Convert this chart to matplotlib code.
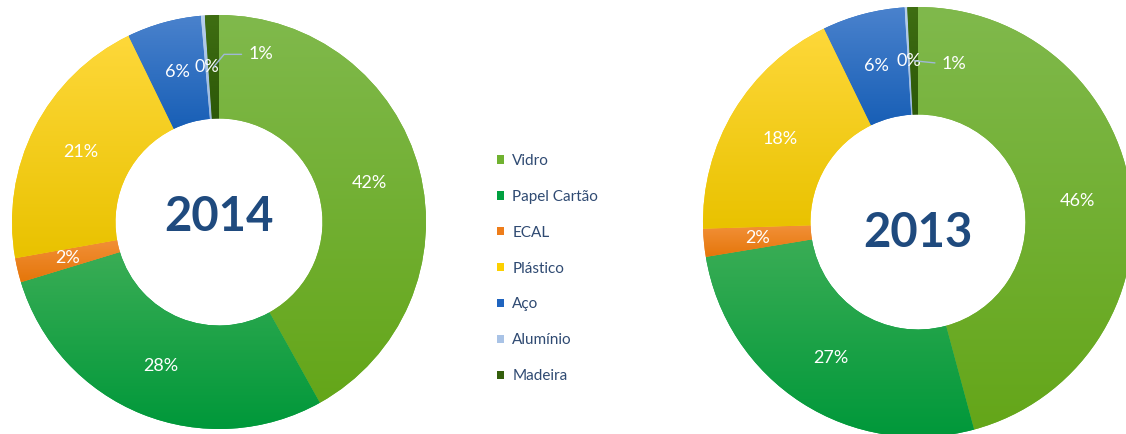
import numpy as np
import matplotlib.pyplot as plt
from matplotlib.colors import LinearSegmentedColormap
from matplotlib.patches import Patch

# Data (shares in %)
categories = ["Vidro", "Papel Cartão", "ECAL", "Plástico", "Aço", "Alumínio", "Madeira"]
values_2014 = [41.9, 28.4, 1.9, 20.6, 5.8, 0.3, 1.1]
values_2013 = [45.8, 26.6, 2.1, 18.3, 6.2, 0.2, 0.8]

colors = ["#70b230", "#00a040", "#ee7d1a", "#fcd000", "#1f64bf", "#a9c3e6", "#345f0c"]
tops = ["#80b94c", "#3aad55", "#f29038", "#fed83a", "#4a82cd", "#b8d0ec", "#3f6e12"]
bottoms = ["#64a619", "#00983a", "#e5760a", "#e9c200", "#185fb6", "#9ab8e0", "#2c5808"]

W, H = 1126, 434
plt.rcParams['font.family'] = ['Lato', 'DejaVu Sans']
fig = plt.figure(figsize=(W / 100, H / 100), dpi=100)


def donut(cx, cy, r, values, year, year_dy, lead_xy, lead_style):
    ax = fig.add_axes([(cx - r) / W, (H - cy - r) / H, 2 * r / W, 2 * r / H])
    wedges, _ = ax.pie(values, colors=colors, startangle=90, counterclock=False,
                       radius=1, wedgeprops=dict(width=0.5, linewidth=0))

    # vertical gradient inside every slice
    grad = np.linspace(0, 1, 200).reshape(-1, 1)
    for w, c0, c1 in zip(wedges, tops, bottoms):
        x0, y0, x1, y1 = w.get_path().get_extents().extents
        cm = LinearSegmentedColormap.from_list("g", [c0, c1])
        ax.imshow(grad, extent=(x0, x1, y0, y1), cmap=cm, aspect='auto',
                  clip_path=w, zorder=2, interpolation='bilinear')

    total = sum(values)
    cum = 0
    for i, v in enumerate(values):
        ang = np.deg2rad(360 * (cum + v / 2) / total)
        cum += v
        x, y = 0.75 * np.sin(ang), 0.75 * np.cos(ang)
        label = f"{v / total * 100:.0f}%"
        if i < len(values) - 1:
            ax.text(x, y, label, color="white", fontsize=13, ha="center",
                    va="center", zorder=5)
        else:
            ax.annotate(label, xy=(x, y), xytext=lead_xy, textcoords="offset points",
                        color="white", fontsize=13, ha="center", va="center", zorder=5,
                        arrowprops=dict(arrowstyle="-", color="#9fb8d6", lw=1,
                                        connectionstyle=lead_style,
                                        relpos=(0, 0.5), shrinkA=3, shrinkB=0))

    ax.text(0, year_dy, year, fontsize=34, fontweight="bold", color="#1f4a7e",
            ha="center", va="center", zorder=5)
    ax.set_xlim(-1, 1)
    ax.set_ylim(-1, 1)
    ax.set_aspect("equal")
    ax.axis("off")


donut(219, 222, 207, values_2014, "2014", 0.022, (34, 9), "angle,angleA=180,angleB=50")
donut(918, 222, 215, values_2013, "2013", -0.05, (29, -2), "arc3")

handles = [Patch(facecolor=c, label=l) for c, l in zip(colors, categories)]
leg = fig.legend(handles=handles, loc="upper left", bbox_to_anchor=(497 / W, (H - 154) / H),
                 frameon=False, fontsize=11, handlelength=0.45, handleheight=0.45,
                 handletextpad=0.55, labelspacing=1.43, borderpad=0, borderaxespad=0)
for t in leg.get_texts():
    t.set_color("#2f4a72")

fig.savefig("out.png", dpi=100)
